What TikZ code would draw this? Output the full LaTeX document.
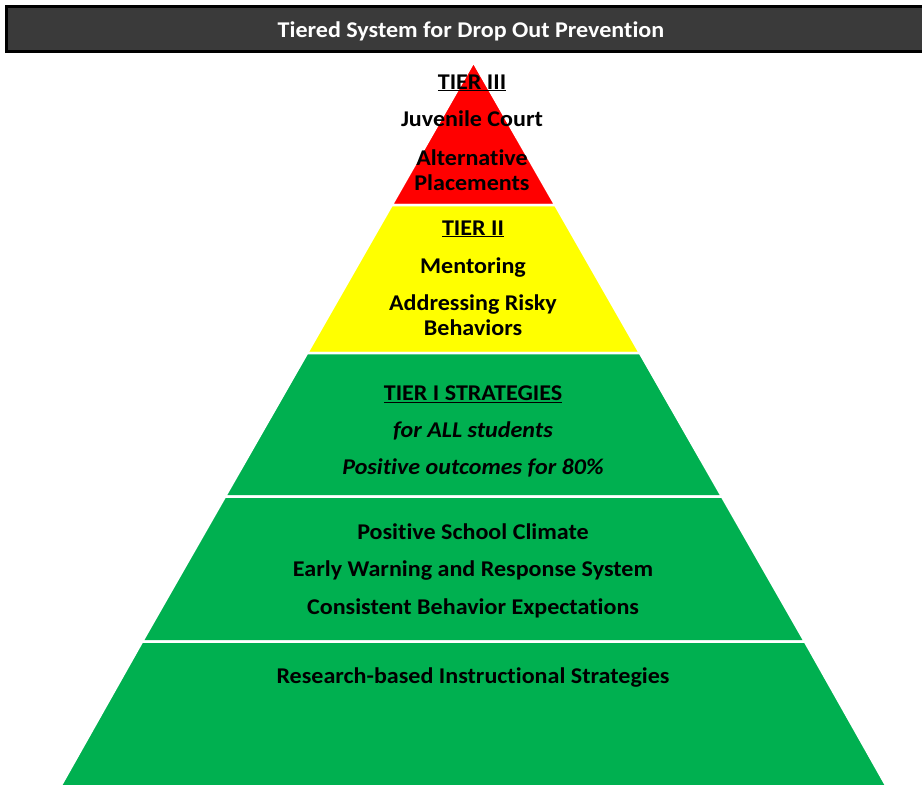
\documentclass[tikz,border=0pt]{standalone}
\usepackage{fontspec}
\setmainfont[FakeStretch=1.07,Ligatures=NoCommon]{Carlito}
\usetikzlibrary{positioning}
\definecolor{tierred}{RGB}{255,0,0}
\definecolor{tieryellow}{RGB}{255,255,0}
\definecolor{tiergreen}{RGB}{0,176,80}
\definecolor{barfill}{RGB}{58,58,58}

\begin{document}
\begin{tikzpicture}[
  x = 1pt,
  y = -1pt,
  band/.style = {
    draw = white,
    line width = 2.5pt,
    line join = miter,
  },
  txt/.style = {
    font = \bfseries\fontsize{22.5}{27}\selectfont,
    inner sep = 0pt,
    text height = 15.5pt,
    text depth = 5pt,
    align = center,
  },
  itxt/.style = {
    txt,
    font = \bfseries\itshape\fontsize{22.5}{27}\selectfont,
  },
  node distance = 16.5pt,
]

  \useasboundingbox (0,0) rectangle (922,785);

  % title bar
  \draw[fill=barfill,line width=3pt] (6.5,6.5) rectangle (935,51.5);
  \node[txt,text=white] (title) at (471,32) {Tiered System for Drop Out Prevention};

  % pyramid bands
  \path[band,fill=tierred] (473.5,62) -- (555.3,205) -- (391.7,205) -- cycle;
  \path[band,fill=tieryellow] (391.7,205) -- (555.3,205) -- (639.9,353) -- (307.1,353) -- cycle;
  \path[band,fill=tiergreen] (307.1,353) -- (639.9,353) -- (722.0,496.5) -- (225.0,496.5) -- cycle;
  \path[band,fill=tiergreen] (225.0,496.5) -- (722.0,496.5) -- (804.9,641.5) -- (142.1,641.5) -- cycle;
  \path[band,fill=tiergreen] (142.1,641.5) -- (804.9,641.5) -- (887,787) -- (60,787) -- cycle;

  % tier III
  \node[txt] (t3) at (472,84) {\underline{TIER III}};
  \node[txt] (court) [below=of t3] {Juvenile Court};
  \node[txt] (alt) [below=17.5pt of court] {Alternative};
  \node[txt] (place) [below=4.5pt of alt] {Placements};

  % tier II
  \node[txt] (t2) at (473,230) {\underline{TIER II}};
  \node[txt] (mentor) [below=17.5pt of t2] {Mentoring};
  \node[txt] (risky) [below=15.5pt of mentor] {Addressing Risky};
  \node[txt] (behav) [below=4.5pt of risky] {Behaviors};

  % tier I
  \node[txt] (t1) at (473,395) {\underline{TIER I STRATEGIES}};
  \node[itxt] (all) [below=of t1] {for ALL students};
  \node[itxt] (pct) [below=15.5pt of all] {Positive outcomes for 80\%};

  \node[txt] (climate) at (473,534) {Positive School Climate};
  \node[txt] (warn) [below=of climate] {Early Warning and Response System};
  \node[txt] (expect) [below=of warn] {Consistent Behavior Expectations};

  \node[txt] (research) at (473,678) {Research-based Instructional Strategies};

\end{tikzpicture}
\end{document}
